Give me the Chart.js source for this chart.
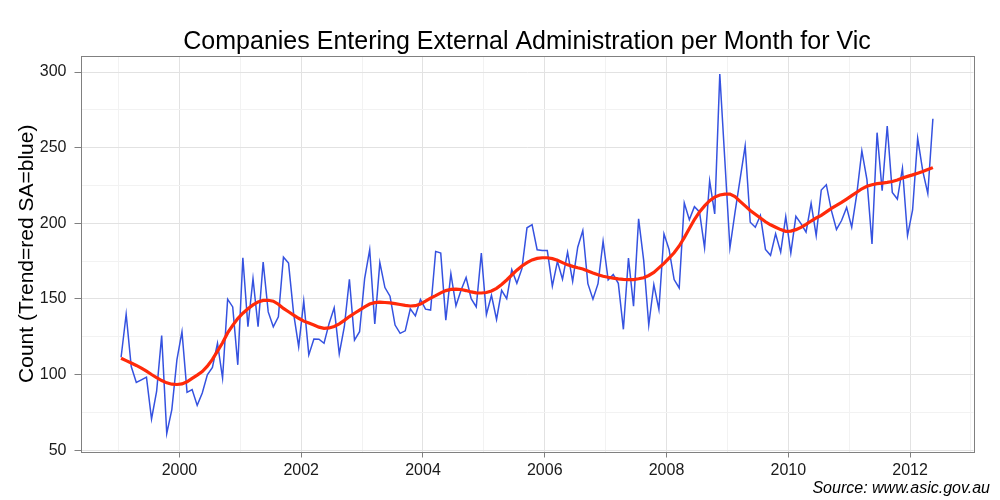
<!DOCTYPE html>
<html>
<head>
<meta charset="utf-8">
<script src="https://cdn.jsdelivr.net/npm/chart.js@4.4.1/dist/chart.umd.min.js"></script>
<style>
  html, body { margin: 0; padding: 0; background: #ffffff; }
  #wrap { width: 1000px; height: 500px; position: relative; }
</style>
</head>
<body>
<div id="wrap"><canvas id="c" width="1000" height="500"></canvas></div>
<script>
// ---- Data (monthly, Jan 1999 .. May 2012) ----
const startYear = 1999;
const startMonth = 1;

// Seasonally adjusted counts (blue)
const saValues = [
  111.4, 139.9, 105.3, 94.7, 96.5, 98.3, 70.6, 88.8, 125.7, 61.0, 76.8, 109.7,
  128.3, 88.2, 90.0, 79.6, 87.8, 99.8, 104.7, 120.7, 97.6, 149.8, 144.7, 106.4,
  177.2, 131.6, 163.4, 131.6, 174.3, 141.4, 131.6, 138.2, 177.6, 173.7, 140.4, 118.4,
  148.5, 113.0, 123.5, 123.4, 120.7, 133.8, 144.1, 113.6, 131.6, 163.0, 122.8, 128.3,
  163.4, 182.5, 133.4, 174.0, 157.5, 151.8, 132.7, 127.2, 128.9, 143.4, 138.8, 149.6,
  143.2, 142.6, 181.4, 180.3, 136.0, 166.7, 145.4, 155.7, 164.1, 150.2, 144.7, 180.3,
  139.7, 152.4, 136.4, 155.7, 150.2, 169.3, 160.3, 170.0, 197.0, 199.1, 182.5, 182.0,
  182.0, 158.4, 174.8, 163.0, 180.9, 161.6, 184.2, 195.2, 160.1, 149.8, 160.1, 188.1,
  162.6, 166.1, 160.3, 129.9, 177.0, 145.2, 202.9, 175.5, 132.7, 159.5, 143.0, 193.0,
  182.7, 162.8, 157.2, 213.4, 202.4, 211.0, 207.5, 183.8, 228.0, 206.2, 298.7, 241.3,
  183.8, 207.2, 229.2, 251.1, 200.7, 197.4, 205.1, 182.7, 178.8, 193.0, 180.9, 204.4,
  180.3, 204.6, 199.8, 194.1, 213.2, 191.9, 222.0, 225.5, 208.4, 195.9, 201.8, 210.5,
  197.4, 219.3, 247.8, 228.8, 186.4, 259.9, 221.5, 264.3, 220.4, 216.0, 236.4, 191.9,
  208.8, 256.2, 234.7, 219.7, 269.1
];

// Trend (red)
const trendValues = [
  110.8, 109.2, 107.6, 106.0, 104.2, 102.2, 100.0, 98.0, 96.0, 94.5, 93.6, 93.4,
  93.8, 95.2, 97.4, 99.6, 102.0, 105.5, 110.0, 115.5, 121.0, 127.5, 132.5, 137.0,
  140.5, 143.5, 146.0, 148.0, 149.0, 149.1, 148.5, 146.5, 143.7, 141.5, 139.3, 137.2,
  135.3, 134.0, 132.7, 131.3, 130.5, 130.8, 131.8, 133.5, 135.8, 138.3, 140.5, 142.6,
  144.7, 146.6, 147.5, 147.8, 147.6, 147.4, 146.9, 146.3, 145.7, 145.3, 145.5, 146.6,
  148.5, 150.5, 152.2, 154.0, 155.5, 156.3, 156.5, 156.2, 155.5, 154.6, 154.0, 153.9,
  154.2, 155.2, 157.0, 159.5, 162.5, 165.8, 169.0, 171.8, 174.0, 175.8, 176.8, 177.2,
  177.2, 176.6, 175.5, 174.0, 172.5, 171.5, 170.6, 169.8, 168.5, 167.2, 166.0, 165.0,
  164.3, 163.7, 163.2, 162.9, 162.8, 162.8, 163.3, 164.0, 165.5, 167.5, 170.5, 173.5,
  177.0, 180.5, 185.0, 190.5, 196.5, 202.5, 207.5, 211.5, 214.9, 217.3, 218.7, 219.3,
  219.3, 217.6, 214.5, 211.5, 208.5, 206.0, 203.5, 201.0, 199.0, 197.4, 195.8, 194.7,
  194.8, 195.8, 197.3, 199.3, 201.5, 203.5, 205.2, 207.5, 209.8, 211.8, 213.8, 216.0,
  218.3, 220.5, 222.8, 224.5, 225.5, 226.2, 226.6, 227.0, 227.6, 228.6, 229.9, 231.0,
  232.0, 233.1, 234.2, 235.5, 236.8
];

// Tick labels
const xTickYears = [2000, 2002, 2004, 2006, 2008, 2010, 2012];
const xMinorYears = [1999, 2001, 2003, 2005, 2007, 2009, 2011, 2013];
const yTickValues = [50, 100, 150, 200, 250, 300];
const yMinorValues = [75, 125, 175, 225, 275];

const titleText = 'Companies Entering External Administration per Month for Vic';
const yTitleText = 'Count (Trend=red SA=blue)';
const captionText = 'Source: www.asic.gov.au';

// ---- Build series (decimal year, mid-month) ----
function monthToYear(i) {
  const m = startMonth - 1 + i;
  return startYear + Math.floor(m / 12) + ((m % 12) + 0.5) / 12;
}
const saPoints = saValues.map((v, i) => ({ x: monthToYear(i), y: v }));
const trendPoints = trendValues.map((v, i) => ({ x: monthToYear(i), y: v }));

const FONT = "'Liberation Sans', Arial, Helvetica, sans-serif";
const MAJOR = '#e2e2e2';
const MINOR = '#f2f2f2';
const AXISGREY = '#808080';

const xAll = [...xTickYears, ...xMinorYears].sort((a, b) => a - b);
const yAll = [...yTickValues, ...yMinorValues].sort((a, b) => a - b);

const frame = {
  id: 'frame',
  afterDraw(chart) {
    const { ctx, chartArea: a } = chart;
    ctx.save();
    ctx.strokeStyle = AXISGREY;
    ctx.lineWidth = 1;
    ctx.strokeRect(Math.round(a.left) + 0.5, Math.round(a.top) + 0.5,
                   Math.round(a.right - a.left), Math.round(a.bottom - a.top));
    ctx.fillStyle = '#000';
    ctx.font = '25px ' + FONT;
    ctx.textAlign = 'center';
    ctx.textBaseline = 'middle';
    ctx.fillText(titleText, (a.left + a.right) / 2, 42);
    ctx.font = 'italic 16px ' + FONT;
    ctx.textAlign = 'right';
    ctx.fillText(captionText, 990, 489);
    ctx.restore();
  }
};

new Chart(document.getElementById('c'), {
  type: 'line',
  data: {
    datasets: [
      {
        label: 'SA',
        data: saPoints,
        borderColor: '#3552e0',
        borderWidth: 1.5,
        pointRadius: 0,
        tension: 0,
        order: 2
      },
      {
        label: 'Trend',
        data: trendPoints,
        borderColor: '#ff2a0a',
        borderWidth: 3.2,
        pointRadius: 0,
        tension: 0,
        order: 1
      }
    ]
  },
  options: {
    responsive: false,
    animation: false,
    devicePixelRatio: 1,
    layout: { padding: { top: 56, right: 26.5, bottom: 0, left: 0 } },
    plugins: {
      legend: { display: false },
      tooltip: { enabled: false },
      title: { display: false }
    },
    scales: {
      x: {
        type: 'linear',
        min: 1998.375,
        max: 2013.042,
        afterFit(s) { s.height = 48.5; },
        afterBuildTicks(s) { s.ticks = xAll.map(v => ({ value: v })); },
        border: { display: false },
        grid: {
          color: c => (xTickYears.includes(c.tick.value) ? MAJOR : MINOR),
          lineWidth: 1,
          drawTicks: true,
          tickLength: 6,
          tickColor: c => (xTickYears.includes(c.tick.value) ? AXISGREY : 'rgba(0,0,0,0)')
        },
        ticks: {
          autoSkip: false,
          maxRotation: 0,
          padding: 3,
          color: '#1a1a1a',
          font: { family: FONT, size: 16 },
          callback: v => (xTickYears.includes(v) ? String(v) : '')
        }
      },
      y: {
        type: 'linear',
        min: 49.1,
        max: 310.6,
        afterFit(s) { s.width = 80.5; },
        afterBuildTicks(s) { s.ticks = yAll.map(v => ({ value: v })); },
        border: { display: false },
        grid: {
          color: c => (yTickValues.includes(c.tick.value) ? MAJOR : MINOR),
          lineWidth: 1,
          drawTicks: true,
          tickLength: 6,
          tickColor: c => (yTickValues.includes(c.tick.value) ? AXISGREY : 'rgba(0,0,0,0)')
        },
        ticks: {
          autoSkip: false,
          padding: 8,
          color: '#1a1a1a',
          font: { family: FONT, size: 16 },
          callback: v => (yTickValues.includes(v) ? String(v) : '')
        },
        title: {
          display: true,
          text: yTitleText,
          color: '#000',
          font: { family: FONT, size: 21 },
          padding: { top: 15, bottom: 0 }
        }
      }
    }
  },
  plugins: [frame]
});
</script>
</body>
</html>
